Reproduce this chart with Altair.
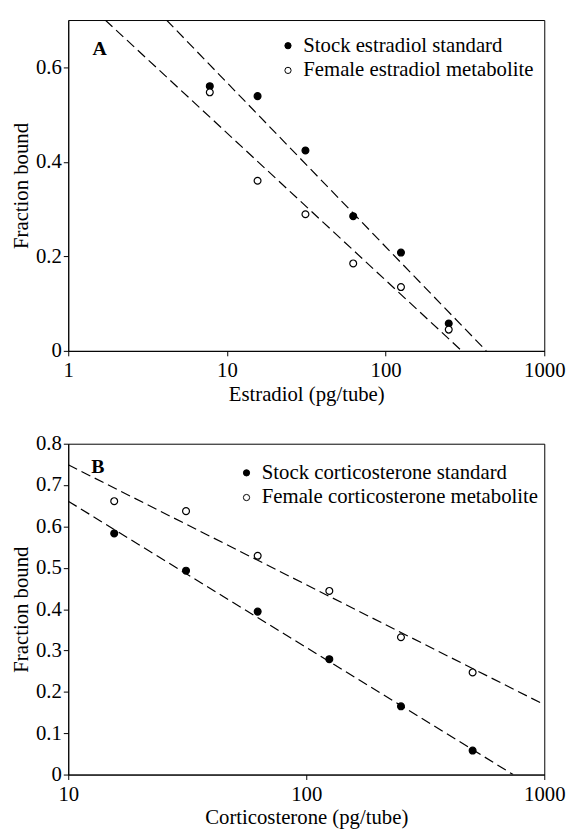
import altair as alt
import pandas as pd

# ---------------- Panel A data ----------------
a_x = [7.8, 15.6, 31.25, 62.5, 125, 250]
a_stock = [0.560, 0.539, 0.424, 0.285, 0.208, 0.058]
a_female = [0.547, 0.360, 0.289, 0.185, 0.135, 0.045]
a_names = ["Stock estradiol standard", "Female estradiol metabolite"]
# dashed regression lines (end points)
a_stock_line_x = [4.16, 431]
a_stock_line_y = [0.70, 0.0]
a_female_line_x = [1.71, 302]
a_female_line_y = [0.70, 0.0]

# ---------------- Panel B data ----------------
b_x = [15.6, 31.25, 62.5, 125, 250, 500]
b_stock = [0.583, 0.493, 0.394, 0.279, 0.165, 0.058]
b_female = [0.661, 0.637, 0.529, 0.444, 0.332, 0.247]
b_names = ["Stock corticosterone standard", "Female corticosterone metabolite"]
b_stock_line_x = [10, 740]
b_stock_line_y = [0.661, 0.0]
b_female_line_x = [10, 1000]
b_female_line_y = [0.749, 0.169]

FONT = "Liberation Serif"


def panel(xs, stock, female, names, sl_x, sl_y, fl_x, fl_y,
          xdomain, xvals, ydomain, yvals, xtitle, letter, letter_xy, legend_xy):
    pts = pd.DataFrame({
        "x": xs + xs,
        "y": stock + female,
        "series": [names[0]] * len(xs) + [names[1]] * len(xs),
    })
    lines = pd.DataFrame({
        "x": sl_x + fl_x,
        "y": sl_y + fl_y,
        "series": [names[0]] * len(sl_x) + [names[1]] * len(fl_x),
    })
    xscale = alt.Scale(type="log", domain=xdomain, nice=False)
    yscale = alt.Scale(domain=ydomain, nice=False, zero=False)
    xaxis = alt.Axis(values=xvals, format="d", title=xtitle, grid=False,
                     labelFlush=False, labelOverlap=False,
                     labelPadding=4, titlePadding=3)
    yaxis = alt.Axis(values=yvals, title="Fraction bound", grid=False,
                     labelPadding=2, titlePadding=4,
                     labelExpr="datum.value == 0 ? '0' : format(datum.value, '.1f')")

    line_layer = alt.Chart(lines).mark_line(
        color="black", strokeWidth=1.2, strokeDash=[10, 5], clip=True
    ).encode(
        x=alt.X("x:Q", scale=xscale, axis=xaxis),
        y=alt.Y("y:Q", scale=yscale, axis=yaxis),
        detail="series:N",
    )
    point_layer = alt.Chart(pts).mark_circle(
        stroke="black", strokeWidth=1.2, size=48, opacity=1
    ).encode(
        x=alt.X("x:Q", scale=xscale, axis=xaxis),
        y=alt.Y("y:Q", scale=yscale, axis=yaxis),
        fill=alt.Fill("series:N",
                      scale=alt.Scale(domain=names, range=["black", "white"]),
                      legend=alt.Legend(title=None, orient="none",
                                        legendX=legend_xy[0], legendY=legend_xy[1],
                                        symbolType="circle", symbolSize=40,
                                        symbolStrokeColor="black", symbolStrokeWidth=1,
                                        labelFont=FONT, labelFontSize=21,
                                        labelColor="black", labelLimit=400,
                                        rowPadding=3, labelOffset=5)),
    )
    text_layer = alt.Chart(pd.DataFrame({"t": [letter]})).mark_text(
        font=FONT, fontSize=20, fontWeight="bold", color="black"
    ).encode(
        x=alt.X("tx:Q", scale=xscale, axis=xaxis),
        y=alt.Y("ty:Q", scale=yscale, axis=yaxis),
        text="t:N",
    ).transform_calculate(tx=str(letter_xy[0]), ty=str(letter_xy[1]))

    return alt.layer(line_layer, point_layer, text_layer).properties(
        width=482, height=335
    )


panel_a = panel(a_x, a_stock, a_female, a_names,
                a_stock_line_x, a_stock_line_y, a_female_line_x, a_female_line_y,
                [1, 1000], [1, 10, 100, 1000], [0, 0.7], [0, 0.2, 0.4, 0.6],
                "Estradiol (pg/tube)", "A", (1.575, 0.639), (212, 15.5))

panel_b = panel(b_x, b_stock, b_female, b_names,
                b_stock_line_x, b_stock_line_y, b_female_line_x, b_female_line_y,
                [10, 1000], [10, 100, 1000], [0, 0.8],
                [0, 0.1, 0.2, 0.3, 0.4, 0.5, 0.6, 0.7, 0.8],
                "Corticosterone (pg/tube)", "B", (13.3, 0.744), (170, 19))

chart = alt.vconcat(panel_a, panel_b, spacing=27).resolve_scale(
    x="independent", y="independent", fill="independent"
).resolve_legend(fill="independent").configure_view(
    stroke="black", strokeWidth=1
).configure_axis(
    labelFont=FONT, titleFont=FONT, labelFontSize=21, titleFontSize=21,
    labelColor="black", titleColor="black", titleFontWeight="normal",
    domainColor="black", tickColor="black", domainWidth=1, tickWidth=1,
    tickSize=5
).properties(padding={"left": 2, "top": 6, "right": 0, "bottom": 0})

chart.save("out.html", embed_options={"renderer": "svg", "actions": False})
